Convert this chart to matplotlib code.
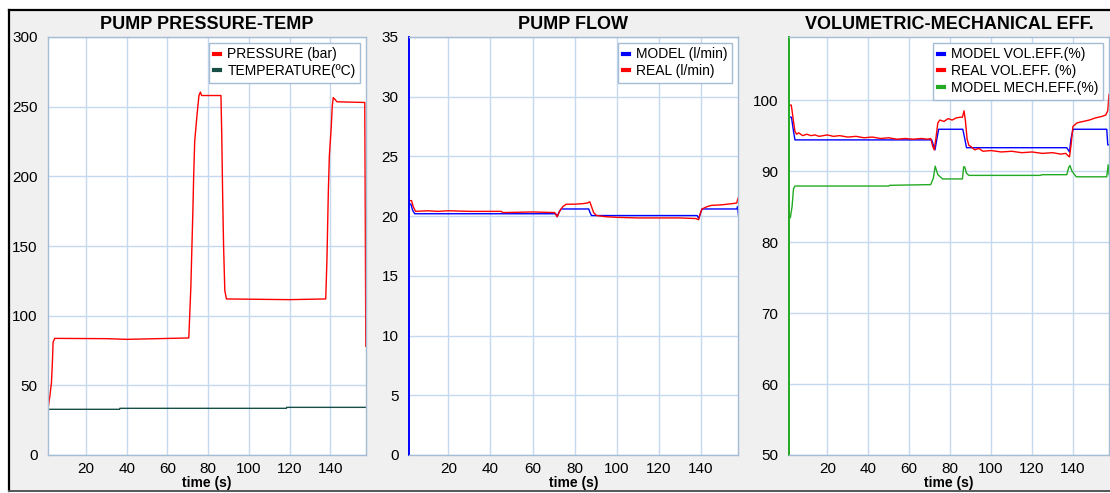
import matplotlib
matplotlib.use("Agg")
import matplotlib.pyplot as plt
from matplotlib.patches import Rectangle
from matplotlib.lines import Line2D

plt.rcParams['font.family'] = ['Liberation Sans', 'DejaVu Sans']

# ---- pump pressure / temperature ----
press_t = [1.3, 2.2, 3.0, 3.5, 3.8, 4.6, 30, 40, 70.5, 71.5, 72.5, 72.9, 73.4, 74.6, 75.5, 76.2, 76.8,
           86.3, 86.7, 87.1, 87.6, 88.2, 89.0, 120, 137.8, 138.4, 139.1, 139.6, 140.5, 141.0, 141.5,
           142.5, 143.3, 157.0, 157.3, 157.5]
press_v = [33, 42, 52, 68, 81, 83.7, 83.5, 83, 84, 120, 175, 200, 225, 245, 258, 260.5, 258,
           258, 230, 190, 150, 118, 112, 111.5, 112, 140, 190, 215, 235, 250, 256.5,
           255, 253.5, 253, 150, 78]
temp_t = [1.3, 36.5, 36.6, 118.5, 118.6, 157.5]
temp_v = [32.8, 32.8, 33.5, 33.5, 34.2, 34.2]

# ---- pump flow ----
flow_model_t = [1.2, 2.2, 3.0, 4.0, 71.0, 71.7, 72.5, 73.5, 86.7, 87.3, 88.0, 138.2, 138.9, 139.7,
                140.5, 157.0, 157.4, 157.8]
flow_model_v = [21.05, 21.0, 20.5, 20.2, 20.2, 19.95, 20.3, 20.6, 20.6, 20.3, 20.05, 20.05, 19.8, 20.2,
                20.6, 20.6, 20.8, 20.1]
flow_real_t = [1.2, 2.5, 3.3, 4.4, 10, 15, 20, 30, 45, 46, 60, 70.5, 71.7, 72.8, 74.4, 76, 80, 84, 86,
               87.2, 88, 89, 90.4, 95, 100, 110, 120, 130, 137.5, 138.9, 139.8, 140.5, 143, 145, 150,
               155, 157, 157.6]
flow_real_v = [21.3, 21.3, 20.8, 20.4, 20.45, 20.4, 20.45, 20.4, 20.4, 20.3, 20.35, 20.3, 19.95, 20.4,
               20.8, 21.0, 21.0, 21.05, 21.1, 21.2, 20.8, 20.3, 20.05, 19.95, 19.9, 19.85, 19.85, 19.85,
               19.8, 19.7, 20.3, 20.6, 20.8, 20.9, 20.95, 21.05, 21.1, 21.5]

# ---- efficiencies ----
vol_model_t = [1.2, 2.5, 3.3, 4.2, 71, 72, 72.6, 73.5, 74.4, 86.2, 87.2, 88, 137, 138.3, 139, 140,
               156.5, 157, 157.6]
vol_model_v = [97.6, 97.6, 96, 94.4, 94.4, 93.5, 93.0, 94.5, 95.9, 95.9, 94.5, 93.3, 93.3, 92.7, 94.5,
               95.9, 95.9, 93.7, 93.7]
vol_real_t = [1.2, 2.4, 2.8, 3.5, 4.2, 5, 6, 8, 10, 12, 14, 16, 18, 20, 23, 26, 30, 34, 38, 42, 46,
              50, 54, 58, 62, 66, 69, 70.5, 71.5, 72.2, 73, 74, 75, 77, 79, 81, 83, 85, 86, 86.8,
              87.5, 88.3, 89.2, 90, 92, 94, 96, 100, 105, 110, 115, 120, 125, 130, 134, 136.5,
              137.5, 138.3, 139, 140, 142, 145, 148, 151, 154, 156, 157, 157.6]
vol_real_v = [99.3, 99.3, 98.5, 97, 95.6, 95.2, 95.4, 95.0, 95.2, 95.0, 95.1, 94.9, 95.0, 95.1, 94.9,
              95.0, 94.8, 94.9, 94.7, 94.8, 94.6, 94.7, 94.5, 94.6, 94.5, 94.6, 94.5, 94.6, 93.5,
              93.0, 94.5, 96.8, 97.2, 97.0, 97.4, 97.2, 97.5, 97.6, 97.6, 98.5, 97.0, 94.5, 93.6,
              93.5, 93.0, 93.2, 92.8, 92.9, 92.7, 92.8, 92.6, 92.7, 92.5, 92.6, 92.4, 92.5, 92.2,
              92.0, 93.5, 96.3, 96.8, 97.0, 97.2, 97.5, 97.7, 97.9, 98.5, 100.8]
mech_t = [1.3, 2.0, 2.8, 3.5, 4.2, 50, 50.5, 70.5, 71.8, 72.7, 74, 76.3, 86, 86.6, 87.1, 88, 89.2,
          124, 125, 137, 137.9, 138.5, 139.5, 141.6, 156.5, 157.2, 157.6]
mech_v = [83.2, 83.5, 85, 87.5, 87.9, 87.9, 88.0, 88.1, 89, 90.7, 89.5, 88.9, 88.9, 90.6, 90.6, 89.7,
          89.4, 89.4, 89.5, 89.5, 90.5, 90.8, 90.0, 89.2, 89.2, 90.9, 89.5]

x_ticks = [20, 40, 60, 80, 100, 120, 140]

W, H = 1110, 493
fig = plt.figure(figsize=(W / 100, H / 100), dpi=100, facecolor='white')

# grey panel with dark frame
fig.add_artist(Rectangle((9 / W, 2 / H), 1.0, (491 - 10) / H, transform=fig.transFigure,
                         facecolor='#f0f0f0', edgecolor='none', zorder=-10))
fig.add_artist(Line2D([9 / W, 1], [(H - 10) / H] * 2, transform=fig.transFigure, color='black', lw=1.6))
fig.add_artist(Line2D([9 / W] * 2, [(H - 491) / H, (H - 10) / H], transform=fig.transFigure,
                      color='black', lw=1.6))
fig.add_artist(Line2D([9 / W, 1], [(H - 491) / H] * 2, transform=fig.transFigure, color='#555555', lw=1.4))


def make_axes(left, right, title, ylim, yticks, left_spine=None):
    ax = fig.add_axes([left / W, (H - 455) / H, (right - left) / W, 418 / H])
    ax.set_facecolor('white')
    ax.set_xlim(1.3, 157.6)
    ax.set_ylim(*ylim)
    ax.set_xticks(x_ticks)
    ax.set_yticks(yticks)
    ax.grid(True, color='#c4d9f0', lw=1.0)
    ax.set_axisbelow(True)
    for s in ax.spines.values():
        s.set_color('#a4bcd4')
        s.set_linewidth(1.0)
    if left_spine:
        ax.spines['left'].set_color(left_spine)
        ax.spines['left'].set_linewidth(1.4)
    ax.tick_params(length=0, labelsize=11, colors='black')
    ax.tick_params(axis='y', pad=7.5)
    ax.tick_params(axis='x', pad=5)
    ax.set_xlabel('time (s)', fontsize=10, fontweight='bold', labelpad=0)
    ax.set_title(title, fontsize=13, fontweight='bold', pad=6)
    return ax


def legend(ax):
    leg = ax.legend(loc='upper right', fontsize=10, handlelength=0.45, handletextpad=0.5,
                    labelspacing=0.2, borderpad=0.35, borderaxespad=0.4, fancybox=False,
                    framealpha=1, edgecolor='#a4bcd4')
    for h in leg.legend_handles:
        h.set_linewidth(3)
    leg.get_frame().set_linewidth(1.0)


ax1 = make_axes(48, 366, 'PUMP PRESSURE-TEMP', (0, 300), [0, 50, 100, 150, 200, 250, 300])
ax1.plot(press_t, press_v, color='#ff0000', lw=1.0, label='PRESSURE (bar)')
ax1.plot(temp_t, temp_v, color='#174f47', lw=1.0, label='TEMPERATURE(ºC)')
legend(ax1)

ax2 = make_axes(409, 738, 'PUMP FLOW', (0, 35), [0, 5, 10, 15, 20, 25, 30, 35], left_spine='#0000ff')
ax2.plot(flow_model_t, flow_model_v, color='#0000ff', lw=1.0, label='MODEL (l/min)')
ax2.plot(flow_real_t, flow_real_v, color='#ff0000', lw=1.0, label='REAL (l/min)')
legend(ax2)

ax3 = make_axes(789, 1109, 'VOLUMETRIC-MECHANICAL EFF.', (50, 108.9), [50, 60, 70, 80, 90, 100],
                left_spine='#22aa22')
ax3.plot(vol_model_t, vol_model_v, color='#0000ff', lw=1.0, label='MODEL VOL.EFF.(%)')
ax3.plot(vol_real_t, vol_real_v, color='#ff0000', lw=1.0, label='REAL VOL.EFF. (%)')
ax3.plot(mech_t, mech_v, color='#22aa22', lw=1.0, label='MODEL MECH.EFF.(%)')
legend(ax3)

fig.savefig('out.png', dpi=100, facecolor=fig.get_facecolor())
